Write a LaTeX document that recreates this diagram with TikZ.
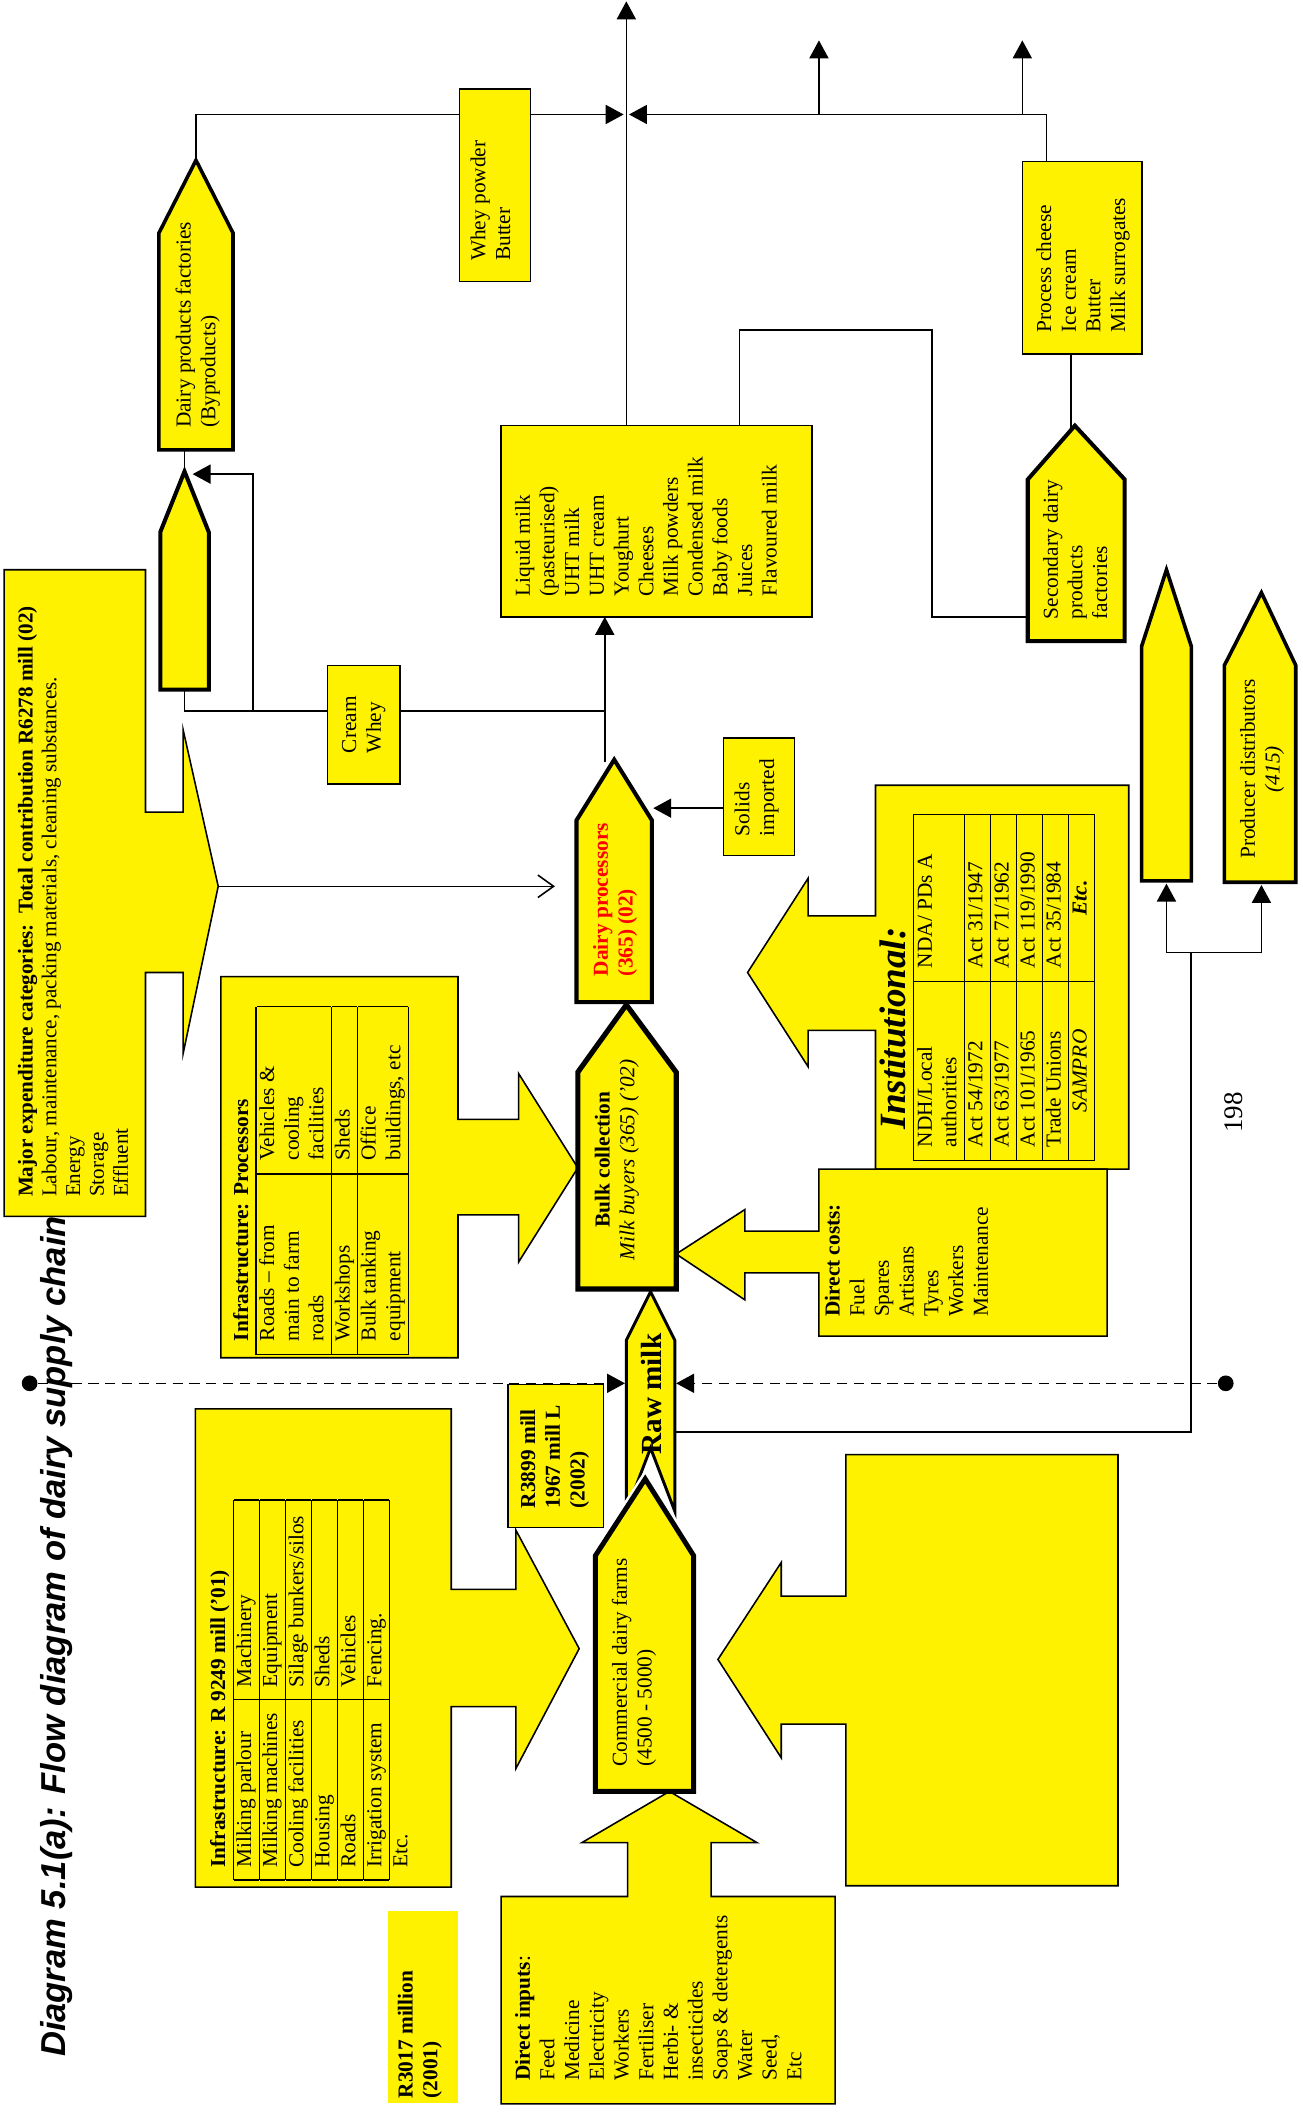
\documentclass[tikz,border=0pt]{standalone}
\usepackage{fontspec}
\setmainfont{Liberation Serif}
\setsansfont{Liberation Sans}
\usetikzlibrary{arrows.meta}
\setlength{\arrayrulewidth}{0.6pt}

\begin{document}
\begin{tikzpicture}[x=0.6pt, y=-0.6pt, line join=miter,
    box/.style={draw, fill=yellow, line width=0.7pt},
    heavy/.style={draw, fill=yellow, line width=1.8pt},
    txt/.style={rotate=90, align=left, inner sep=0pt, font=\fontsize{9.5}{11}\selectfont},
    link/.style={line width=0.7pt},
    flow/.style={link, -{Triangle[length=8pt, width=8.5pt]}},
    dot/.style={circle, fill=black, inner sep=0pt, minimum size=7pt}]

  \useasboundingbox (0,0) rectangle (967,1568);

  % big input / cost blocks
  \draw[box] (3,423) -- (108,423) -- (108,603) -- (136,603) -- (136,542) -- (162,658)
     -- (136,782) -- (136,722) -- (108,722) -- (108,903) -- (3,903) -- cycle;
  \draw[box] (164,725) -- (340,725) -- (340,831) -- (385,831) -- (385,797) -- (429,867)
     -- (385,937) -- (385,902) -- (340,902) -- (340,1008) -- (164,1008) -- cycle;
  \draw[box] (145,1046) -- (335,1046) -- (335,1180) -- (383,1180) -- (383,1136) -- (430,1224)
     -- (383,1313) -- (383,1267) -- (335,1267) -- (335,1401) -- (145,1401) -- cycle;
  \draw[box] (838,583) -- (650,583) -- (650,680) -- (600,680) -- (600,652) -- (555,722)
     -- (600,792) -- (600,765) -- (650,765) -- (650,868) -- (838,868) -- cycle;
  \draw[box] (822,868) -- (608,868) -- (608,914) -- (553,914) -- (553,898) -- (502,931)
     -- (553,965) -- (553,945) -- (608,945) -- (608,992) -- (822,992) -- cycle;
  \draw[box] (830,1080) -- (628,1080) -- (628,1185) -- (580,1185) -- (580,1160) -- (533,1232)
     -- (580,1305) -- (580,1280) -- (628,1280) -- (628,1400) -- (830,1400) -- cycle;
  \draw[box] (372,1562) -- (372,1408) -- (466,1408) -- (466,1368) -- (432,1368) -- (497,1330)
     -- (562,1368) -- (528,1368) -- (528,1408) -- (620,1408) -- (620,1562) -- cycle;

  % plain boxes
  \draw[box] (341,66) rectangle (394,209);
  \draw[box] (243,494) rectangle (297,582);
  \draw[box] (372,316) rectangle (603,458);
  \draw[box] (759,120) rectangle (848,263);
  \draw[box] (537,548) rectangle (590,635);
  \draw[box] (377,1028) rectangle (448,1134);
  \fill[yellow] (288,1419) rectangle (340,1561);

  % chain arrows
  \draw[heavy, line width=1.6pt] (118,334) -- (118,173) -- (145.5,119) -- (173,173) -- (173,334) -- cycle;
  \draw[heavy] (119,512) -- (119,395) -- (137,350) -- (155,395) -- (155,512) -- cycle;
  \draw[heavy] (763,476) -- (763,356) -- (798,316) -- (835,356) -- (835,476) -- cycle;
  \draw[heavy] (428,744) -- (428,609) -- (456,564) -- (484,609) -- (484,744) -- cycle;
  \draw[heavy, line width=2.3pt] (429,957) -- (429,796) -- (465,746) -- (502,796) -- (502,957) -- cycle;
  \draw[heavy, line width=1.3pt] (465,1122) -- (465,995) -- (483,959) -- (501,995) -- (501,1122) -- (483,1075) -- cycle;
  \draw[white, line width=4.5pt] (442,1155) -- (479,1098) -- (515,1155);
  \draw[heavy, line width=2.2pt] (442,1330) -- (442,1155) -- (479,1098) -- (515,1155) -- (515,1330) -- cycle;
  \draw[heavy, line width=1.6pt] (847.5,654) -- (847.5,480) -- (866,423) -- (884.5,480) -- (884.5,654) -- cycle;
  \draw[heavy, line width=1.6pt] (909,655) -- (909,494) -- (936.5,440) -- (962,494) -- (962,655) -- cycle;

  % connector ends
  \coordinate (facTip) at (145.5,119);
  \coordinate (facUp) at (145.5,85);
  \coordinate (wheyL) at (341,85);
  \coordinate (wheyR) at (394,85);
  \coordinate (hubL) at (463,85);
  \coordinate (hubR) at (467,85);
  \coordinate (liqTop) at (465,316);
  \coordinate (top) at (465,1);
  \coordinate (cheeseTop) at (777,120);
  \coordinate (br1) at (608,85);
  \coordinate (up1) at (608,30);
  \coordinate (br2) at (759,85);
  \coordinate (up2) at (759,30);
  \coordinate (cheeseBot) at (795,263);
  \coordinate (secTip) at (795,319);
  \coordinate (secL) at (763,458);
  \coordinate (secMid) at (692,245);
  \coordinate (liqTop2) at (549,316);
  \coordinate (dpTop) at (449,566);
  \coordinate (liqBot) at (449,458);
  \coordinate (facBot) at (137,334);
  \coordinate (smallTip) at (137,350);
  \coordinate (smallBot) at (137,512);
  \coordinate (creamL) at (243,528);
  \coordinate (creamR) at (297,528);
  \coordinate (creamJ) at (449,528);
  \coordinate (creamK) at (188,528);
  \coordinate (smallIn) at (143,352);
  \coordinate (solidsL) at (537,600);
  \coordinate (dpR) at (485,600);
  \coordinate (expTip) at (162,658);
  \coordinate (dpL) at (412,658);
  \coordinate (rawL) at (464,1027);
  \coordinate (rawR) at (502,1027);
  \coordinate (rawOut) at (501,1063);
  \coordinate (split) at (884,707);
  \coordinate (blankBot) at (866,656);
  \coordinate (pdBot) at (936.5,657);
  \node[dot] (dotL) at (22,1027) {};
  \node[dot] (dotR) at (910,1027) {};

  % connectors
  \draw[link] (facTip) -- (facUp) -- (wheyL);
  \draw[flow] (wheyR) -- (hubL);
  \draw[flow] (liqTop) -- (top);
  \draw[flow] (cheeseTop) |- (hubR);
  \draw[flow] (br1) -- (up1);
  \draw[flow] (br2) -- (up2);
  \draw[link] (cheeseBot) -- (secTip);
  \draw[link] (secL) -| (secMid) -| (liqTop2);
  \draw[flow] (dpTop) -- (liqBot);
  \draw[link] (facBot) -- (smallTip);
  \draw[link] (smallBot) |- (creamL);
  \draw[link] (creamR) -- (creamJ);
  \draw[flow] (creamK) |- (smallIn);
  \draw[flow] (solidsL) -- (dpR);
  \draw[link, -{Straight Barb[length=7pt, width=10pt]}] (expTip) -- (dpL);
  \draw[flow, dash pattern=on 4.5pt off 3pt] (dotL) -- (rawL);
  \draw[flow, dash pattern=on 4.5pt off 3pt] (dotR) -- (rawR);
  \draw[link] (rawOut) -| (split);
  \draw[flow] (split) -| (blankBot);
  \draw[flow] (split) -| (pdBot);

  % texts
  \node[rotate=90, inner sep=0pt, font=\sffamily\bfseries\itshape\fontsize{15.4}{18}\selectfont] (title)
    at (42,1215) {Diagram 5.1(a): Flow diagram of dairy supply chain};
  \node[txt, anchor=north west, font=\fontsize{9.4}{10.6}\selectfont] (expense) at (13,889)
    {\textbf{Major expenditure categories:\ \ Total contribution R6278 mill (02)}\\
     Labour, maintenance, packing materials, cleaning substances.\\ Energy\\ Storage\\ Effluent};
  \node[txt] (cream) at (270,538) {Cream\\ Whey};
  \node[txt, anchor=north west] (factories) at (130,318) {Dairy products factories\\ (Byproducts)};
  \node[txt, anchor=north west] (whey) at (349,194) {Whey powder\\ Butter};
  \node[txt, anchor=north west] (cheese) at (769,247) {Process cheese\\ Ice cream\\ Butter\\ Milk surrogates};
  \node[txt, anchor=north west] (secondary) at (774,460) {Secondary dairy\\ products\\ factories};
  \node[txt, anchor=north west] (products) at (382,443)
    {Liquid milk\\ (pasteurised)\\ UHT milk\\ UHT cream\\ Youghurt\\ Cheeses\\ Milk powders\\
     Condensed milk\\ Baby foods\\ Juices\\ Flavoured milk};
  \node[txt, anchor=north west, text=red, font=\fontsize{9.5}{11}\selectfont\bfseries] (processors)
    at (440,725) {Dairy processors\\ (365) (02)};
  \node[txt, anchor=north west] (solids) at (545,621) {Solids\\ imported};
  \node[txt, align=center] (bulk) at (458,861) {\textbf{Bulk collection}\\ \textit{Milk buyers (365) (’02)}};
  \node[txt, font=\fontsize{13}{15}\selectfont\bfseries] (raw) at (484,1035) {Raw milk};
  \node[txt, anchor=north west] (farms) at (454,1312) {Commercial dairy farms\\ (4500 - 5000)};
  \node[txt, anchor=north west, font=\fontsize{9.5}{11}\selectfont\bfseries] (rawvalue) at (386,1120)
    {R3899 mill\\ 1967 mill L\\ (2002)};
  \node[txt, anchor=north west, font=\fontsize{9.5}{11}\selectfont\bfseries] (farmvalue) at (295,1558)
    {R3017 million\\ (2001)};
  \node[txt, anchor=north west] (costs) at (612,978)
    {\textbf{Direct costs:}\\ Fuel\\ Spares\\ Artisans\\ Tyres\\ Workers\\ Maintenance};
  \node[txt, anchor=north west] (inputs) at (382,1545)
    {\textbf{Direct inputs}:\\ Feed\\ Medicine\\ Electricity\\ Workers\\ Fertiliser\\ Herbi- \&\\
     insecticides\\ Soaps \& detergents\\ Water\\ Seed,\\ Etc};
  \node[txt, align=center] (distributors) at (937,571) {Producer distributors\\ \textit{(415)}};
  \node[txt, font=\fontsize{12}{14}\selectfont] (page) at (916,826) {198};

  % tables
  \node[txt, anchor=north west] (procinfra) at (171,1006) {\setlength{\tabcolsep}{6pt}%
    \begin{tabular}{|p{68.5pt}|p{62.5pt}|}
      \multicolumn{2}{l}{\textbf{Infrastructure: Processors}}\\ \hline
      Roads – from\newline main to farm\newline roads & Vehicles \&\newline cooling\newline facilities\\ \hline
      Workshops & Sheds\\ \hline
      Bulk tanking\newline equipment & Office\newline buildings, etc\\ \hline
    \end{tabular}};
  \node[txt, anchor=north west] (farminfra) at (154,1396) {\setlength{\tabcolsep}{5.5pt}%
    \begin{tabular}{|p{69.4pt}|p{77.8pt}|}
      \multicolumn{2}{l}{\textbf{Infrastructure: R 9249 mill (’01)}}\\ \hline
      Milking parlour & Machinery\\ \hline
      Milking machines & Equipment\\ \hline
      Cooling facilities & Silage bunkers/silos\\ \hline
      Housing & Sheds\\ \hline
      Roads & Vehicles\\ \hline
      Irrigation system & Fencing.\\ \hline
      \multicolumn{2}{l}{Etc.}\\
    \end{tabular}};
  \node[txt, anchor=north west] (institutional) at (653,862) {\setlength{\tabcolsep}{6pt}%
    \begin{tabular}{|p{67.8pt}|p{62.4pt}|}
      \multicolumn{2}{l}{\hspace*{8pt}\fontsize{16.5}{18}\selectfont\bfseries\itshape Institutional:}\\ \hline
      NDH/Local\newline authorities & NDA/ PDs A\\ \hline
      Act 54/1972 & Act 31/1947\\ \hline
      Act 63/1977 & Act 71/1962\\ \hline
      Act 101/1965 & Act 119/1990\\ \hline
      Trade Unions & Act 35/1984\\ \hline
      \multicolumn{1}{|c|}{\itshape SAMPRO} & \multicolumn{1}{c|}{\bfseries\itshape Etc.}\\ \hline
    \end{tabular}};
\end{tikzpicture}
\end{document}
